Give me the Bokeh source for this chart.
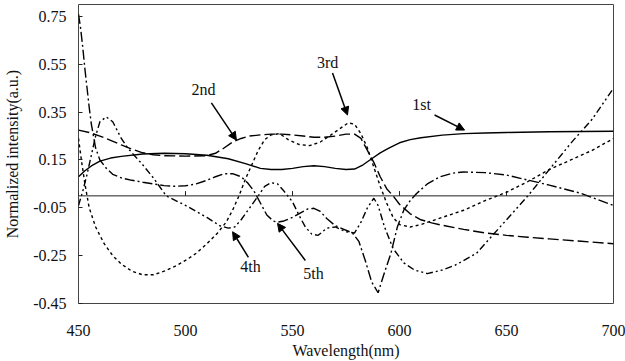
from bokeh.plotting import figure
from bokeh.models import Range1d, FixedTicker, PrintfTickFormatter, Span, Arrow, NormalHead, Label
from bokeh.embed import file_html
from bokeh.resources import INLINE

# ---- data ----
wl_1st = [450, 453, 456, 460, 465, 470, 480, 490, 500, 510, 520, 528, 535, 540, 545, 550, 555, 560,
          565, 570, 575, 579, 583, 587, 591, 595, 600, 605, 610, 620, 630, 640, 650, 670, 700]
int_1st = [0.08, 0.105, 0.125, 0.145, 0.158, 0.165, 0.175, 0.178, 0.176, 0.17, 0.155, 0.135, 0.115,
           0.11, 0.11, 0.115, 0.122, 0.126, 0.122, 0.115, 0.11, 0.112, 0.13, 0.155, 0.18, 0.2, 0.222,
           0.235, 0.243, 0.254, 0.26, 0.263, 0.265, 0.268, 0.27]

wl_2nd = [450, 455, 460, 465, 470, 475, 480, 485, 490, 500, 510, 514, 518, 522, 526, 530, 535, 540,
          545, 550, 555, 560, 565, 570, 575, 579, 582, 585, 588, 591, 594, 597, 600, 605, 610, 615,
          620, 630, 640, 650, 660, 670, 685, 700]
int_2nd = [0.275, 0.265, 0.25, 0.232, 0.213, 0.195, 0.18, 0.172, 0.168, 0.166, 0.168, 0.178, 0.2,
           0.225, 0.24, 0.25, 0.255, 0.258, 0.258, 0.255, 0.25, 0.245, 0.245, 0.25, 0.258, 0.258,
           0.24, 0.19, 0.14, 0.08, 0.03, 0.0, -0.035, -0.075, -0.1, -0.113, -0.123, -0.14, -0.155,
           -0.165, -0.173, -0.18, -0.19, -0.2]

wl_3rd = [450, 451.5, 453, 455, 458, 462, 466, 470, 475, 480, 485, 490, 495, 500, 505, 510, 515,
          519, 522, 525, 528, 531, 534, 537, 540, 544, 548, 553, 558, 563, 568, 572, 576, 579, 582,
          585, 588, 591, 594, 597, 600, 605, 610, 620, 630, 640, 650, 660, 670, 680, 690, 700]
int_3rd = [0.24, 0.14, 0.05, -0.05, -0.13, -0.2, -0.25, -0.285, -0.315, -0.33, -0.33, -0.315,
           -0.295, -0.27, -0.24, -0.2, -0.155, -0.11, -0.06, 0.0, 0.07, 0.13, 0.19, 0.235, 0.255,
           0.26, 0.235, 0.215, 0.21, 0.225, 0.255, 0.28, 0.305, 0.3, 0.26, 0.2, 0.12, 0.04, -0.03,
           -0.09, -0.12, -0.13, -0.12, -0.09, -0.06, -0.02, 0.015, 0.06, 0.11, 0.15, 0.19, 0.24]

wl_4th = [450, 452, 454, 456, 458, 460, 463, 466, 470, 473, 476, 480, 485, 491, 500, 505, 510,
          516, 520, 523, 526, 530, 534, 537, 540, 543, 546, 550, 553, 556, 559, 562, 566, 570, 575,
          579, 582, 585, 588, 590, 593, 597, 602, 607, 613, 620, 626, 636, 648, 660, 670, 681, 690,
          700]
int_4th = [-0.04, 0.02, 0.09, 0.17, 0.25, 0.31, 0.33, 0.31, 0.24, 0.2, 0.17, 0.13, 0.075, 0.0,
           -0.04, -0.065, -0.09, -0.125, -0.135, -0.13, -0.1, -0.05, 0.0, 0.04, 0.055, 0.05, 0.02,
           -0.025, -0.08, -0.13, -0.16, -0.165, -0.135, -0.13, -0.15, -0.155, -0.11, -0.05, -0.01,
           -0.04, -0.13, -0.22, -0.28, -0.31, -0.325, -0.31, -0.29, -0.24, -0.12, 0.0, 0.11, 0.23,
           0.32, 0.45]

wl_5th = [450, 451, 452, 453, 454, 455, 456, 457, 458, 460, 463, 466, 470, 475, 480, 485, 490, 495,
          500, 505, 510, 514, 518, 522, 526, 529, 532, 535, 538, 541, 543, 546, 550, 554, 557, 560,
          563, 566, 570, 574, 578, 581, 584, 587, 590, 593, 596, 599, 602, 605, 608, 613, 619, 625,
          630, 640, 650, 660, 670, 685, 700]
int_5th = [0.76, 0.7, 0.62, 0.53, 0.45, 0.37, 0.3, 0.25, 0.2, 0.15, 0.115, 0.09, 0.075, 0.065,
           0.057, 0.05, 0.043, 0.04, 0.042, 0.05, 0.065, 0.08, 0.092, 0.093, 0.08, 0.055, 0.02,
           -0.03, -0.08, -0.105, -0.11, -0.105, -0.09, -0.07, -0.055, -0.052, -0.065, -0.095,
           -0.125, -0.14, -0.155, -0.19, -0.27, -0.36, -0.405, -0.32, -0.24, -0.13, -0.06, -0.02,
           0.01, 0.05, 0.08, 0.095, 0.1, 0.097, 0.087, 0.066, 0.045, 0.01, -0.04]

x_ticks = [450, 500, 550, 600, 650, 700]
y_ticks = [-0.45, -0.25, -0.05, 0.15, 0.35, 0.55, 0.75]

# annotation labels: (text, label x, label y, arrow start x, y, arrow end x, y)
notes = [
    ("1st", 610.3, 0.384, 616.4, 0.338, 630.4, 0.275),
    ("2nd", 508.4, 0.443, 512.1, 0.389, 523.8, 0.233),
    ("3rd", 566.4, 0.556, 568.7, 0.514, 575.7, 0.338),
    ("4th", 530.4, -0.295, 529.4, -0.257, 522.0, -0.150),
    ("5th", 559.8, -0.324, 556.0, -0.270, 543.0, -0.115),
]

FONT = "'Liberation Serif', 'DejaVu Serif', serif"

p = figure(width=625, height=361, output_backend="svg", toolbar_location=None,
           x_range=Range1d(450, 700), y_range=Range1d(-0.45, 0.80),
           min_border_left=78, min_border_right=12, min_border_top=4, min_border_bottom=58)
p.background_fill_color = "white"
p.border_fill_color = "white"
p.outline_line_color = "#444444"
p.outline_line_width = 1
p.xgrid.visible = False
p.ygrid.visible = False

# axes
p.xaxis.ticker = FixedTicker(ticks=x_ticks)
p.xaxis.axis_line_color = None
p.xaxis.major_tick_line_color = None
p.xaxis.minor_tick_line_color = None
p.xaxis.major_label_standoff = 15
p.xaxis.axis_label = "Wavelength(nm)"
p.xaxis.axis_label_standoff = 3

p.yaxis.ticker = FixedTicker(ticks=y_ticks)
p.yaxis.formatter = PrintfTickFormatter(format="%.2f")
p.yaxis.axis_line_color = None
p.yaxis.major_tick_in = 4
p.yaxis.major_tick_out = 0
p.yaxis.major_tick_line_color = "#222222"
p.yaxis.minor_tick_line_color = None
p.yaxis.major_label_standoff = 12
p.yaxis.axis_label = "Normalized intensity(a.u.)"
p.yaxis.axis_label_standoff = 9

for ax in (p.xaxis, p.yaxis):
    ax.major_label_text_font = FONT
    ax.major_label_text_font_size = "16px"
    ax.major_label_text_color = "#111111"
    ax.axis_label_text_font = FONT
    ax.axis_label_text_font_size = "16px"
    ax.axis_label_text_font_style = "normal"
    ax.axis_label_text_color = "#111111"

# zero line with tick marks on it
p.add_layout(Span(location=0, dimension="width", line_color="#222222", line_width=1))
p.segment(x0=x_ticks, y0=[0] * len(x_ticks), x1=x_ticks, y1=[0.02] * len(x_ticks),
          line_color="#222222", line_width=1)

# curves
lw = 1.4
p.line(wl_1st, int_1st, line_color="black", line_width=lw)
p.line(wl_2nd, int_2nd, line_color="black", line_width=lw, line_dash="11 4")
p.line(wl_3rd, int_3rd, line_color="black", line_width=lw, line_dash="3 3")
p.line(wl_4th, int_4th, line_color="black", line_width=lw, line_dash="7 3 2 3 2 3")
p.line(wl_5th, int_5th, line_color="black", line_width=lw, line_dash="10 3 2 3")

for txt, lx, ly, xs, ys, xe, ye in notes:
    p.add_layout(Label(x=lx, y=ly, text=txt, text_align="center", text_baseline="middle",
                       text_font=FONT, text_font_size="16px", text_color="#111111"))
    p.add_layout(Arrow(end=NormalHead(size=8, fill_color="black", line_color="black"),
                       x_start=xs, y_start=ys, x_end=xe, y_end=ye,
                       line_color="black", line_width=1.5))

open("out.html", "w").write(file_html(p, INLINE))
